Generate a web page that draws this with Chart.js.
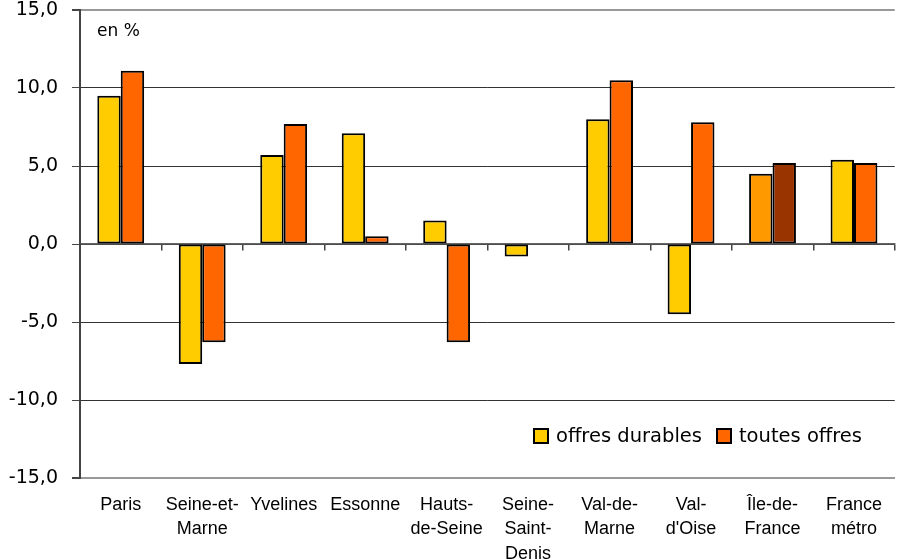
<!DOCTYPE html>
<html>
<head>
<meta charset="utf-8">
<script src="https://cdn.jsdelivr.net/npm/chart.js@4/dist/chart.umd.min.js"></script>
<style>
  html, body { margin: 0; padding: 0; background: #fff; }
  #wrap { position: relative; width: 897px; height: 560px; overflow: hidden; }
  #unit { position: absolute; left: 97px; top: 20px; font: 17px "DejaVu Sans", sans-serif; color: #000; }
  #legend { position: absolute; left: 533px; top: 424px; display: flex; align-items: center;
            font: 19.5px "DejaVu Sans", sans-serif; color: #000; }
  #legend .item { display: flex; align-items: center; margin-right: 14px; }
  #legend .box { width: 12px; height: 12px; border: 2px solid #000; margin-right: 7px; }
</style>
</head>
<body>
<div id="wrap">
  <canvas id="c" width="897" height="560"></canvas>
  <div id="unit">en %</div>
  <div id="legend"></div>
</div>
<script>
const categories = ['Paris', ['Seine-et-', 'Marne'], 'Yvelines', 'Essonne', ['Hauts-', 'de-Seine'],
  ['Seine-', 'Saint-', 'Denis'], ['Val-de-', 'Marne'], ['Val-', "d'Oise"], ['Île-de-', 'France'], ['France', 'métro']];
const offresDurables = [9.5, -7.7, 5.7, 7.1, 1.5, -0.8, 8.0, -4.5, 4.5, 5.4];
const toutesOffres = [11.1, -6.3, 7.7, 0.5, -6.3, null, 10.5, 7.8, 5.2, 5.2];
const seriesNames = ['offres durables', 'toutes offres'];
const yMin = -15, yMax = 15, yStep = 5;

const yellow = '#FFCC00', orange = '#FF6600';
const idfIndex = 8;
const colDur = categories.map((c, i) => i === idfIndex ? '#FF9900' : yellow);
const colAll = categories.map((c, i) => i === idfIndex ? '#993300' : orange);

const chart = new Chart(document.getElementById('c'), {
  type: 'bar',
  data: {
    labels: categories,
    datasets: [
      { label: seriesNames[0], data: offresDurables, backgroundColor: colDur, legendColor: yellow,
        borderColor: '#000', borderWidth: 2, borderSkipped: false },
      { label: seriesNames[1], data: toutesOffres, backgroundColor: colAll, legendColor: orange,
        borderColor: '#000', borderWidth: 2, borderSkipped: false }
    ]
  },
  options: {
    responsive: false,
    animation: false,
    layout: { padding: { top: 10, right: 0, left: 0, bottom: 0 } },
    datasets: { bar: { categoryPercentage: 0.575, barPercentage: 1.0 } },
    plugins: { legend: { display: false }, tooltip: { enabled: false } },
    scales: {
      x: {
        position: 'bottom',
        grid: { display: false, drawTicks: false },
        border: { display: true, color: '#999', width: 2 },
        ticks: { color: '#000', font: { family: '"Liberation Sans", Arial, sans-serif', size: 18, lineHeight: 1.35 },
                 padding: 15, maxRotation: 0, autoSkip: false },
        afterFit: s => { s.height = 82; }
      },
      x0: {
        type: 'category',
        position: { y: 0 },
        offset: true,
        grid: { offset: true, drawOnChartArea: false, drawTicks: true, tickLength: 6, color: '#444', lineWidth: 1.5 },
        border: { display: true, color: '#666', width: 1.5 },
        ticks: { display: false }
      },
      y: {
        min: yMin, max: yMax,
        ticks: { stepSize: yStep, color: '#000', padding: 14,
                 font: { family: '"DejaVu Sans", Verdana, sans-serif', size: 19 },
                 callback: v => v.toFixed(1).replace('.', ',') },
        grid: {
          drawTicks: true, tickLength: 8,
          color: ctx => (ctx.tick && (ctx.tick.value === yMax || ctx.tick.value === yMin)) ? '#999' : '#333',
          lineWidth: ctx => (ctx.tick && (ctx.tick.value === yMax || ctx.tick.value === yMin)) ? 2 : 1,
          tickColor: '#444'
        },
        border: { display: true, color: '#444', width: 2 },
        afterFit: s => { s.width = 80; s.paddingTop = 0; s.paddingBottom = 0; }
      }
    }
  }
});

const leg = document.getElementById('legend');
chart.data.datasets.forEach(ds => {
  const it = document.createElement('div');
  it.className = 'item';
  const b = document.createElement('div');
  b.className = 'box';
  b.style.background = ds.legendColor;
  const t = document.createElement('span');
  t.textContent = ds.label;
  it.appendChild(b); it.appendChild(t);
  leg.appendChild(it);
});
</script>
</body>
</html>
